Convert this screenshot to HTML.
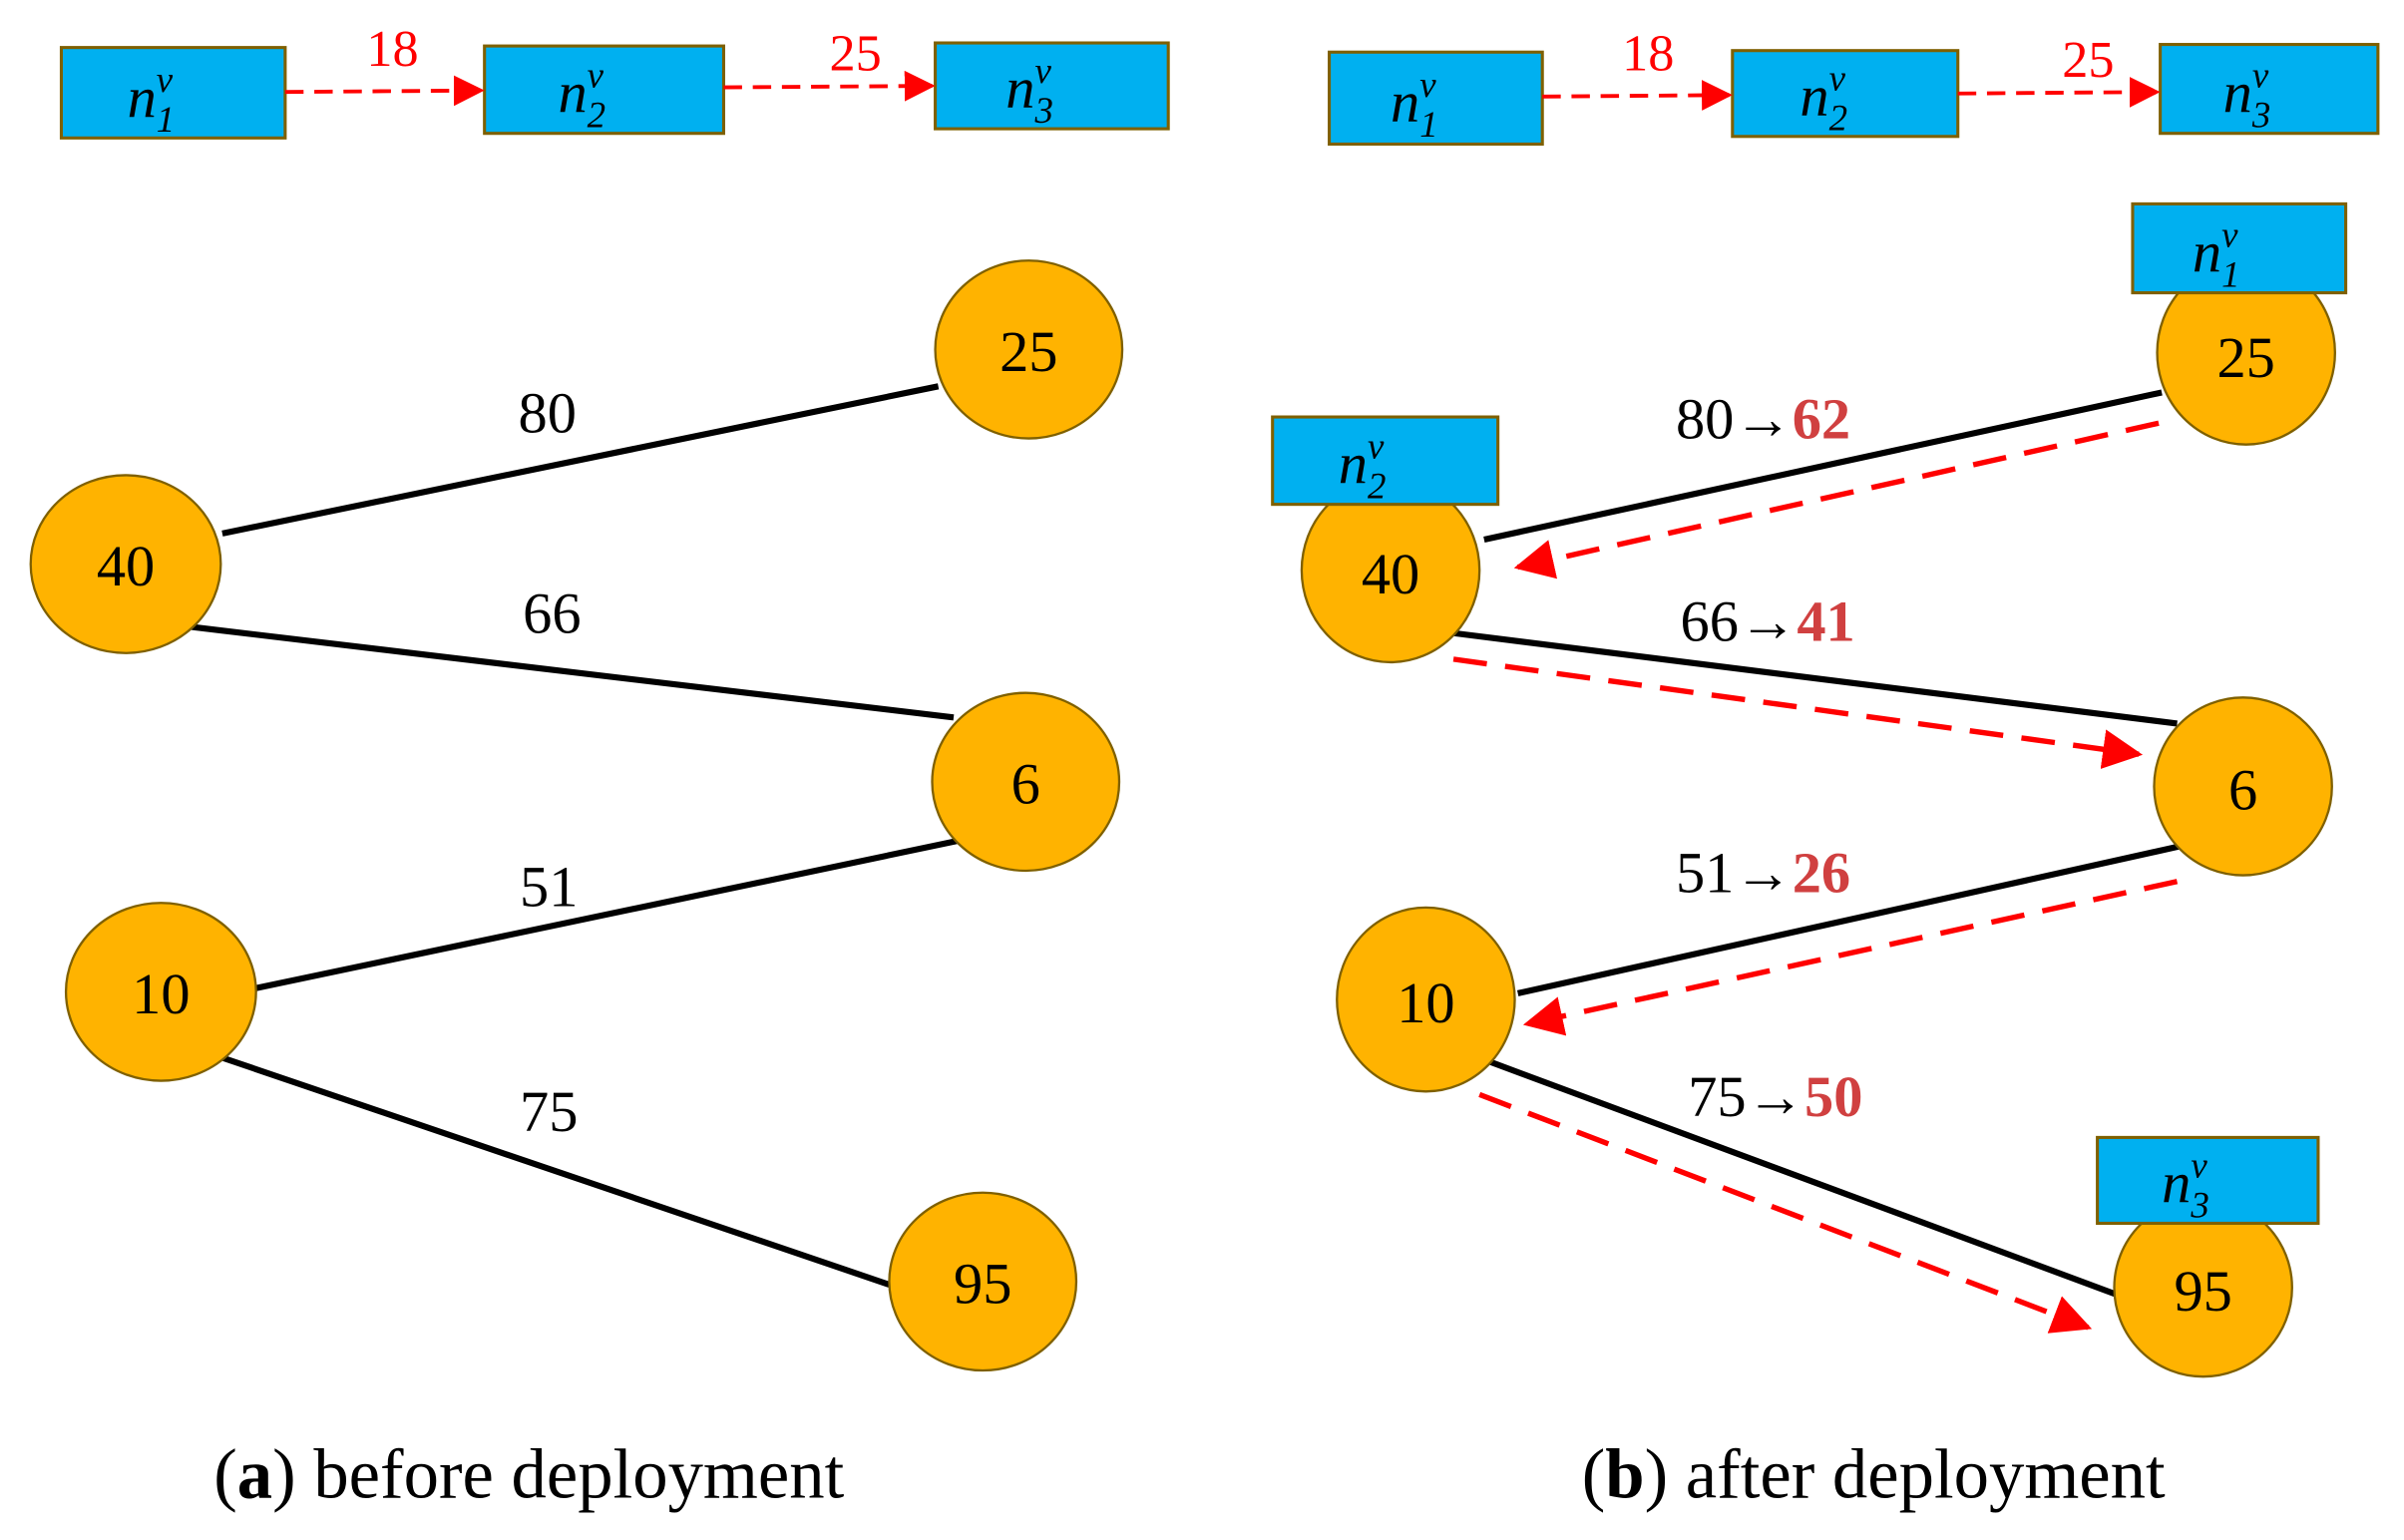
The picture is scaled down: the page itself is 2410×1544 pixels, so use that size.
<!DOCTYPE html>
<html><head><meta charset="utf-8"><style>
html,body{margin:0;padding:0;background:#fff;}
svg{display:block;font-family:"Liberation Serif",serif;}
</style></head><body>
<svg width="2410" height="1544" viewBox="0 0 1568 1004.6" preserveAspectRatio="none" xmlns="http://www.w3.org/2000/svg">
<defs>
<marker id="ah" markerWidth="8" markerHeight="8" refX="7" refY="4" orient="auto" markerUnits="userSpaceOnUse" viewBox="0 0 8 8">
</marker>
<marker id="a" viewBox="0 0 10 10" refX="9" refY="5" markerWidth="26" markerHeight="26" markerUnits="userSpaceOnUse" orient="auto"><path d="M0,0 L10,5 L0,10 z" fill="#f00"/></marker>
<marker id="b" viewBox="0 0 10 10" refX="9" refY="5" markerWidth="20" markerHeight="20" markerUnits="userSpaceOnUse" orient="auto"><path d="M0,0 L10,5 L0,10 z" fill="#f00"/></marker>
</defs>
<g fill="#00b0f0" stroke="#7f6000" stroke-width="2">
<rect x="40" y="31" width="146" height="59"/>
<rect x="316" y="30" width="156" height="57"/>
<rect x="610" y="28" width="152" height="56"/>
<rect x="867" y="34" width="139" height="60"/>
<rect x="1130" y="33" width="147" height="56"/>
<rect x="1409" y="29" width="142" height="58"/>
</g>
<g stroke="#f00" stroke-width="2.5" stroke-dasharray="12,7" fill="none">
<line x1="186" y1="60" x2="314" y2="59" marker-end="url(#b)"/>
<line x1="472" y1="57" x2="608" y2="56" marker-end="url(#b)"/>
<line x1="1006" y1="63" x2="1128" y2="62" marker-end="url(#b)"/>
<line x1="1277" y1="61" x2="1407" y2="60" marker-end="url(#b)"/>
</g>
<g fill="#f00" font-size="34" text-anchor="middle">
<text x="256" y="43">18</text><text x="558" y="46">25</text>
<text x="1075" y="46">18</text><text x="1362" y="50">25</text>
</g>
<!-- black edges -->
<g stroke="#000" stroke-width="4">
<line x1="145" y1="348" x2="612" y2="252"/>
<line x1="125" y1="409" x2="622" y2="468"/>
<line x1="165" y1="645" x2="627" y2="548"/>
<line x1="145" y1="690" x2="580" y2="838"/>
<line x1="968" y1="352" x2="1410" y2="256"/>
<line x1="948" y1="413" x2="1420" y2="472"/>
<line x1="1422" y1="552" x2="990" y2="648"/>
<line x1="970" y1="692" x2="1382" y2="845"/>
</g>
<g stroke="#f00" stroke-width="3.5" stroke-dasharray="22,12" fill="none">
<line x1="1408" y1="276" x2="990" y2="370" marker-end="url(#a)"/>
<line x1="948" y1="430" x2="1395" y2="492" marker-end="url(#a)"/>
<line x1="1420" y1="575" x2="996" y2="668" marker-end="url(#a)"/>
<line x1="965" y1="714" x2="1362" y2="866" marker-end="url(#a)"/>
</g>
<g fill="#ffb300" stroke="#7f6000" stroke-width="1.5">
<ellipse cx="671" cy="228" rx="61" ry="58"/>
<ellipse cx="82" cy="368" rx="62" ry="58"/>
<ellipse cx="669" cy="510" rx="61" ry="58"/>
<ellipse cx="105" cy="647" rx="62" ry="58"/>
<ellipse cx="641" cy="836" rx="61" ry="58"/>
<ellipse cx="1465" cy="230" rx="58" ry="60"/>
<ellipse cx="907" cy="372" rx="58" ry="60"/>
<ellipse cx="1463" cy="513" rx="58" ry="58"/>
<ellipse cx="930" cy="652" rx="58" ry="60"/>
<ellipse cx="1437" cy="840" rx="58" ry="58"/>
</g>
<g fill="#00b0f0" stroke="#7f6000" stroke-width="2">
<rect x="1391" y="133" width="139" height="58"/>
<rect x="830" y="272" width="147" height="57"/>
<rect x="1368" y="742" width="144" height="56"/>
</g>
<g font-size="38" text-anchor="middle" fill="#000">
<text x="671" y="242">25</text><text x="82" y="382">40</text><text x="669" y="524">6</text>
<text x="105" y="661">10</text><text x="641" y="850">95</text>
<text x="1465" y="246">25</text><text x="907" y="387">40</text><text x="1463" y="528">6</text>
<text x="930" y="667">10</text><text x="1437" y="855">95</text>
<text x="357" y="282">80</text><text x="360" y="413">66</text><text x="358" y="591">51</text><text x="358" y="738">75</text>
</g>
<g font-size="38" text-anchor="middle">
<text x="1150" y="286">80→<tspan fill="#d04040" font-weight="bold">62</tspan></text>
<text x="1153" y="418">66→<tspan fill="#d04040" font-weight="bold">41</tspan></text>
<text x="1150" y="582">51→<tspan fill="#d04040" font-weight="bold">26</tspan></text>
<text x="1158" y="728">75→<tspan fill="#d04040" font-weight="bold">50</tspan></text>
</g>
<g font-size="38" font-style="italic" fill="#000">
<text x="83" y="76">n<tspan font-size="24" dx="0" dy="10">1</tspan><tspan font-size="24" dx="-12" dy="-26">v</tspan></text>
<text x="364" y="73">n<tspan font-size="24" dy="10">2</tspan><tspan font-size="24" dx="-12" dy="-26">v</tspan></text>
<text x="656" y="70">n<tspan font-size="24" dy="10">3</tspan><tspan font-size="24" dx="-12" dy="-26">v</tspan></text>
<text x="907" y="79">n<tspan font-size="24" dy="10">1</tspan><tspan font-size="24" dx="-12" dy="-26">v</tspan></text>
<text x="1174" y="75">n<tspan font-size="24" dy="10">2</tspan><tspan font-size="24" dx="-12" dy="-26">v</tspan></text>
<text x="1450" y="73">n<tspan font-size="24" dy="10">3</tspan><tspan font-size="24" dx="-12" dy="-26">v</tspan></text>
<text x="1430" y="177">n<tspan font-size="24" dy="10">1</tspan><tspan font-size="24" dx="-12" dy="-26">v</tspan></text>
<text x="873" y="315">n<tspan font-size="24" dy="10">2</tspan><tspan font-size="24" dx="-12" dy="-26">v</tspan></text>
<text x="1410" y="784">n<tspan font-size="24" dy="10">3</tspan><tspan font-size="24" dx="-12" dy="-26">v</tspan></text>
</g>
<g font-size="46" text-anchor="middle" fill="#000">
<text x="345" y="977">(<tspan font-weight="bold">a</tspan>) before deployment</text>
<text x="1222" y="977">(<tspan font-weight="bold">b</tspan>) after deployment</text>
</g>
</svg>
</body></html>
